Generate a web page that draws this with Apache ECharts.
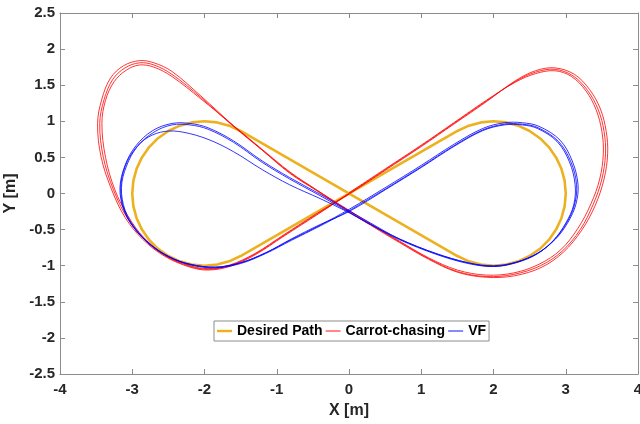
<!DOCTYPE html>
<html>
<head>
<meta charset="utf-8">
<title>Path following: Carrot-chasing vs VF</title>
<script src="https://cdn.jsdelivr.net/npm/echarts@6/dist/echarts.min.js"></script>
<style>
  html, body { margin: 0; padding: 0; background: #ffffff; }
  #chart { width: 640px; height: 424px; }
</style>
</head>
<body>
<div id="chart"></div>
<script>
// Axis ranges and ticks
const xTicks = [-4, -3, -2, -1, 0, 1, 2, 3, 4];
const yTicks = [-2.5, -2, -1.5, -1, -0.5, 0, 0.5, 1, 1.5, 2, 2.5];

// Desired figure-eight path: right loop (clockwise, from upper tangent point)
const desiredRight = [
  [1.5, 0.866], [1.658, 0.940], [1.826, 0.985], [2, 1], [2.174, 0.985], [2.342, 0.940],
  [2.5, 0.866], [2.643, 0.766], [2.766, 0.643], [2.866, 0.5], [2.940, 0.342], [2.985, 0.174],
  [3, 0], [2.985, -0.174], [2.940, -0.342], [2.866, -0.5], [2.766, -0.643], [2.643, -0.766],
  [2.5, -0.866], [2.342, -0.940], [2.174, -0.985], [2, -1], [1.826, -0.985], [1.658, -0.940],
  [1.5, -0.866]
];
// Desired path: left loop (counter-clockwise, from upper tangent point)
const desiredLeft = [
  [-1.5, 0.866], [-1.658, 0.940], [-1.826, 0.985], [-2, 1], [-2.174, 0.985], [-2.342, 0.940],
  [-2.5, 0.866], [-2.643, 0.766], [-2.766, 0.643], [-2.866, 0.5], [-2.940, 0.342], [-2.985, 0.174],
  [-3, 0], [-2.985, -0.174], [-2.940, -0.342], [-2.866, -0.5], [-2.766, -0.643], [-2.643, -0.766],
  [-2.5, -0.866], [-2.342, -0.940], [-2.174, -0.985], [-2, -1], [-1.826, -0.985], [-1.658, -0.940],
  [-1.5, -0.866], [1.5, 0.866]
];

// Carrot-chasing trajectory, three laps
const carrotLap1 = [
  [0.00, 0.01], [0.50, 0.34], [1.00, 0.67], [1.45, 0.98], [1.90, 1.29], [2.30, 1.54], [2.58, 1.66],
  [2.85, 1.70], [3.08, 1.62], [3.28, 1.42], [3.42, 1.16], [3.50, 0.86], [3.52, 0.55], [3.47, 0.20],
  [3.35, -0.14], [3.17, -0.48], [2.93, -0.78], [2.63, -0.98], [2.28, -1.10], [1.90, -1.13],
  [1.50, -1.06], [1.10, -0.89], [0.70, -0.66], [0.30, -0.42], [-0.10, -0.17], [-0.45, 0.05],
  [-0.82, 0.30], [-1.20, 0.61], [-1.60, 0.94], [-2.05, 1.31], [-2.45, 1.62], [-2.70, 1.75],
  [-2.90, 1.78], [-3.08, 1.71], [-3.25, 1.55], [-3.37, 1.29], [-3.42, 0.97], [-3.37, 0.50],
  [-3.24, 0.05], [-3.06, -0.31], [-2.84, -0.61], [-2.55, -0.85], [-2.20, -1.00], [-1.95, -1.04],
  [-1.65, -0.99], [-1.30, -0.83], [-0.90, -0.57], [-0.45, -0.28]
];
const carrotLap2 = [
  [0.00, 0.00], [0.50, 0.33], [1.00, 0.66], [1.45, 0.97], [1.90, 1.28], [2.30, 1.55], [2.58, 1.68],
  [2.85, 1.72], [3.10, 1.63], [3.30, 1.43], [3.45, 1.16], [3.53, 0.86], [3.55, 0.55], [3.50, 0.20],
  [3.38, -0.15], [3.20, -0.50], [2.95, -0.80], [2.65, -1.00], [2.28, -1.12], [1.90, -1.15],
  [1.50, -1.08], [1.10, -0.90], [0.70, -0.67], [0.30, -0.43], [-0.10, -0.18], [-0.45, 0.05],
  [-0.82, 0.29], [-1.20, 0.60], [-1.60, 0.93], [-2.05, 1.33], [-2.45, 1.65], [-2.70, 1.78],
  [-2.90, 1.81], [-3.10, 1.74], [-3.27, 1.58], [-3.39, 1.30], [-3.45, 0.97], [-3.40, 0.50],
  [-3.26, 0.05], [-3.08, -0.32], [-2.85, -0.62], [-2.55, -0.86], [-2.20, -1.01], [-1.95, -1.05],
  [-1.65, -1.00], [-1.30, -0.84], [-0.90, -0.58], [-0.45, -0.29]
];
const carrotLap3 = [
  [0.00, -0.01], [0.50, 0.32], [1.00, 0.65], [1.45, 0.96], [1.90, 1.27], [2.30, 1.56], [2.58, 1.70],
  [2.85, 1.74], [3.12, 1.65], [3.33, 1.44], [3.48, 1.17], [3.56, 0.86], [3.58, 0.55], [3.53, 0.20],
  [3.41, -0.16], [3.22, -0.51], [2.97, -0.81], [2.67, -1.02], [2.29, -1.14], [1.90, -1.16],
  [1.50, -1.09], [1.10, -0.91], [0.70, -0.68], [0.30, -0.44], [-0.10, -0.19], [-0.45, 0.04],
  [-0.82, 0.28], [-1.20, 0.60], [-1.60, 0.94], [-2.05, 1.35], [-2.45, 1.69], [-2.70, 1.81],
  [-2.90, 1.84], [-3.12, 1.77], [-3.30, 1.60], [-3.42, 1.31], [-3.48, 0.97], [-3.43, 0.50],
  [-3.28, 0.04], [-3.10, -0.33], [-2.86, -0.63], [-2.55, -0.87], [-2.20, -1.02], [-1.95, -1.06],
  [-1.65, -1.01], [-1.30, -0.85], [-0.90, -0.59], [-0.45, -0.30], [0.00, 0.00]
];

// Vector-field (VF) trajectory, three laps
const vfLap1 = [
  [0.00, -0.24], [0.50, 0.06], [1.00, 0.37], [1.45, 0.66], [1.85, 0.88], [2.15, 0.96], [2.40, 0.96],
  [2.62, 0.91], [2.90, 0.72], [3.07, 0.44], [3.15, 0.12], [3.12, -0.16], [3.01, -0.41], [2.84, -0.64],
  [2.61, -0.83], [2.32, -0.95], [2.00, -1.00], [1.65, -0.96], [1.20, -0.83], [0.70, -0.63], [0.30, -0.43],
  [-0.05, -0.24], [-0.40, -0.07], [-0.82, 0.12], [-1.20, 0.33], [-1.60, 0.58], [-1.95, 0.75],
  [-2.30, 0.85], [-2.55, 0.86], [-2.78, 0.78], [-2.96, 0.62], [-3.10, 0.37], [-3.16, 0.07], [-3.11, -0.23],
  [-2.97, -0.48], [-2.75, -0.71], [-2.49, -0.88], [-2.20, -0.98], [-1.85, -1.02], [-1.50, -0.96],
  [-1.15, -0.82], [-0.80, -0.64], [-0.40, -0.44]
];
const vfLap2 = [
  [0.00, -0.22], [0.50, 0.08], [1.00, 0.39], [1.45, 0.68], [1.85, 0.90], [2.15, 0.98], [2.40, 0.98],
  [2.63, 0.93], [2.92, 0.74], [3.09, 0.45], [3.17, 0.12], [3.14, -0.15], [3.03, -0.40], [2.86, -0.63],
  [2.62, -0.82], [2.32, -0.95], [2.00, -1.01], [1.65, -0.96], [1.20, -0.83], [0.70, -0.63], [0.30, -0.41],
  [-0.05, -0.21], [-0.40, -0.01], [-0.82, 0.22], [-1.20, 0.45], [-1.60, 0.73], [-1.95, 0.91],
  [-2.20, 0.97], [-2.45, 0.97], [-2.72, 0.87], [-2.95, 0.66], [-3.10, 0.39], [-3.17, 0.08], [-3.12, -0.22],
  [-2.98, -0.47], [-2.76, -0.70], [-2.50, -0.87], [-2.20, -0.98], [-1.85, -1.02], [-1.50, -0.96],
  [-1.15, -0.82], [-0.80, -0.63], [-0.40, -0.43]
];
const vfLap3 = [
  [0.00, -0.25], [0.50, 0.05], [1.00, 0.36], [1.45, 0.65], [1.85, 0.87], [2.15, 0.95], [2.40, 0.95],
  [2.61, 0.90], [2.88, 0.72], [3.05, 0.44], [3.13, 0.12], [3.11, -0.16], [3.00, -0.41], [2.83, -0.65],
  [2.60, -0.84], [2.31, -0.96], [2.00, -1.01], [1.65, -0.97], [1.20, -0.84], [0.70, -0.64], [0.30, -0.43],
  [-0.05, -0.23], [-0.40, -0.03], [-0.82, 0.20], [-1.20, 0.43], [-1.60, 0.71], [-1.95, 0.89],
  [-2.20, 0.95], [-2.45, 0.95], [-2.70, 0.85], [-2.93, 0.65], [-3.08, 0.38], [-3.15, 0.08], [-3.10, -0.23],
  [-2.96, -0.48], [-2.74, -0.71], [-2.48, -0.88], [-2.19, -0.99], [-1.85, -1.03], [-1.50, -0.97],
  [-1.15, -0.83], [-0.80, -0.65], [-0.40, -0.45], [0.00, -0.24]
];

const axisColor = '#8c8c8c';
const labelColor = '#262626';
const fontFamily = 'Liberation Sans, Arial, sans-serif';

const pathColor = '#EDB120';
const carrotColor = '#FF0000';
const vfColor = '#0000FF';

const carrotTrack = carrotLap1.concat(carrotLap2, carrotLap3);
const vfTrack = vfLap1.concat(vfLap2, vfLap3);

function boxAxis(kind, position, ticks, showLabels, name) {
  const ax = {
    type: 'value',
    position: position,
    min: ticks[0],
    max: ticks[ticks.length - 1],
    interval: ticks[1] - ticks[0],
    axisLine: { show: true, onZero: false, lineStyle: { color: axisColor, width: 1 } },
    axisTick: { show: true, inside: true, length: 5, lineStyle: { color: axisColor, width: 1 } },
    axisLabel: {
      show: showLabels,
      color: labelColor,
      fontWeight: 'bold',
      fontSize: 15,
      fontFamily: fontFamily,
      margin: kind === 'x' ? 8 : 5
    },
    splitLine: { show: false }
  };
  if (name) {
    ax.name = name;
    ax.nameLocation = 'middle';
    ax.nameGap = kind === 'x' ? 29 : 33;
    ax.nameTextStyle = { color: labelColor, fontWeight: 'bold', fontSize: 16, fontFamily: fontFamily };
  }
  return ax;
}

// A measured trajectory drawn as one continuous spline through its samples,
// each sample placed with the cartesian coordinate system of the grid.
function trackSeries(name, points, color, width) {
  return {
    name: name,
    type: 'custom',
    coordinateSystem: 'cartesian2d',
    data: points,
    itemStyle: { color: color },
    silent: true,
    renderItem: function (params, api) {
      if (params.dataIndex !== 0) return null;
      const pixels = points.map(function (p) { return api.coord(p); });
      return {
        type: 'polyline',
        shape: { points: pixels, smooth: 0.35 },
        style: { stroke: color, lineWidth: width, fill: null }
      };
    }
  };
}

const chart = echarts.init(document.getElementById('chart'), null, { renderer: 'canvas' });

chart.setOption({
  animation: false,
  backgroundColor: '#ffffff',
  grid: { left: 60, right: 2, top: 13, bottom: 50, containLabel: false, outerBoundsMode: 'none' },
  xAxis: [
    boxAxis('x', 'bottom', xTicks, true, 'X [m]'),
    boxAxis('x', 'top', xTicks, false, null)
  ],
  yAxis: [
    boxAxis('y', 'left', yTicks, true, 'Y [m]'),
    boxAxis('y', 'right', yTicks, false, null)
  ],
  legend: {
    left: 214,
    top: 321,
    orient: 'horizontal',
    itemWidth: 15,
    itemHeight: 10,
    itemGap: 3,
    symbolKeepAspect: true,
    padding: [3, 3, 3, 3],
    borderColor: axisColor,
    borderWidth: 1,
    borderRadius: 0,
    backgroundColor: '#ffffff',
    textStyle: { color: '#000000', fontWeight: 'bold', fontSize: 14, fontFamily: fontFamily },
    data: [
      { name: 'Desired Path', icon: 'path://M0,0H16V2.6H0Z', itemStyle: { color: pathColor } },
      { name: 'Carrot-chasing', icon: 'path://M0,0H16V1H0Z', itemStyle: { color: carrotColor } },
      { name: 'VF', icon: 'path://M0,0H16V1H0Z', itemStyle: { color: vfColor } }
    ]
  },
  series: [
    {
      name: 'Desired Path',
      type: 'line',
      data: desiredRight.concat(desiredLeft),
      showSymbol: false,
      symbol: 'none',
      smooth: false,
      lineStyle: { color: pathColor, width: 2.6 },
      itemStyle: { color: pathColor },
      z: 2
    },
    Object.assign(trackSeries('Carrot-chasing', carrotTrack, carrotColor, 0.8), { z: 3 }),
    Object.assign(trackSeries('VF', vfTrack, vfColor, 0.8), { z: 4 })
  ]
});
</script>
</body>
</html>
